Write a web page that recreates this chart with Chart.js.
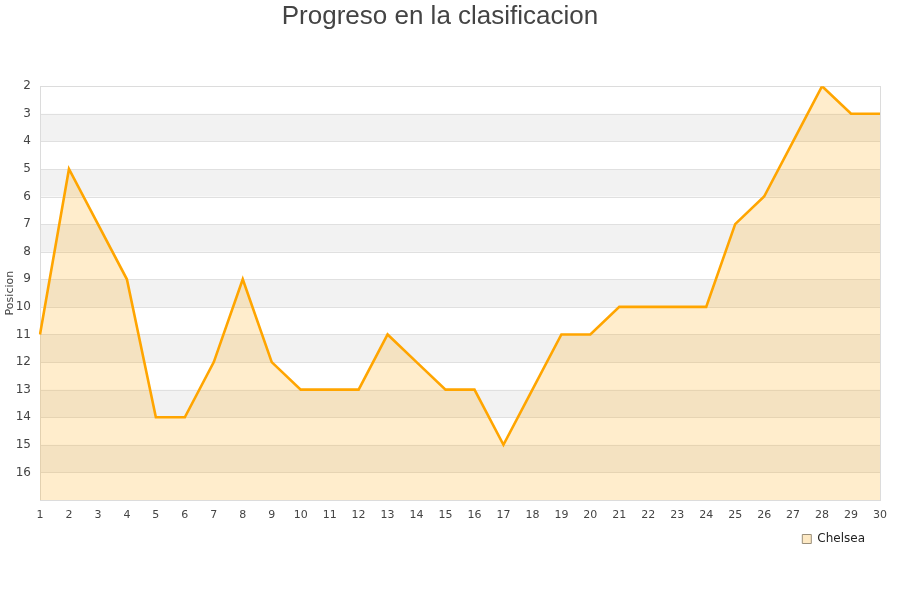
<!DOCTYPE html>
<html><head><meta charset="utf-8">
<script src="https://cdn.jsdelivr.net/npm/chart.js@4/dist/chart.umd.min.js"></script>
<style>html,body{margin:0;padding:0;background:#fff}#wrap{width:900px;height:600px}</style>
</head><body><div id="wrap"><canvas id="c" width="900" height="600"></canvas></div>
<script>
const jornadas = [1,2,3,4,5,6,7,8,9,10,11,12,13,14,15,16,17,18,19,20,21,22,23,24,25,26,27,28,29,30];
const chelsea = [11,5,7,9,14,14,12,9,12,13,13,13,11,12,13,13,15,13,11,11,10,10,10,10,7,6,4,2,3,3];
const yMin = 2, yMax = 17;

const bands = {
  id: 'bands',
  beforeDatasetsDraw(chart) {
    const {ctx, chartArea: a, scales: {y}} = chart;
    ctx.save();
    for (let v = yMin; v < yMax; v++) {
      if ((v - yMin) % 2 === 1) {
        const p1 = y.getPixelForValue(v), p2 = y.getPixelForValue(v + 1);
        ctx.fillStyle = '#f2f2f2';
        ctx.fillRect(a.left, Math.min(p1, p2), a.right - a.left, Math.abs(p2 - p1));
      }
    }
    ctx.strokeStyle = '#e0e0e0';
    ctx.lineWidth = 1;
    for (let v = yMin; v <= yMax; v++) {
      const p = Math.round(y.getPixelForValue(v)) + 0.5;
      ctx.beginPath(); ctx.moveTo(a.left, p); ctx.lineTo(a.right, p); ctx.stroke();
    }
    ctx.strokeStyle = '#dcdcdc';
    ctx.strokeRect(Math.round(a.left) + 0.5, Math.round(a.top) + 0.5, Math.round(a.right - a.left), Math.round(a.bottom - a.top));
    ctx.restore();
  }
};

new Chart(document.getElementById('c'), {
  type: 'line',
  data: {
    labels: jornadas,
    datasets: [{
      label: 'Chelsea',
      data: chelsea,
      borderColor: '#FFA500',
      backgroundColor: 'rgba(255,165,0,0.2)',
      borderWidth: 2.6,
      pointRadius: 0,
      tension: 0,
      fill: {value: yMax}
    }]
  },
  options: {
    responsive: false,
    animation: false,
    layout: {padding: {left: 0, right: 20, top: 0, bottom: 45}},
    plugins: {
      title: {
        display: true,
        text: 'Progreso en la clasificacion',
        color: '#444',
        font: {family: 'Liberation Sans', size: 26, weight: 'normal'},
        padding: {top: 1, bottom: 54}
      },
      legend: {
        position: 'bottom',
        align: 'end',
        labels: {
          boxWidth: 9, boxHeight: 9, padding: 15,
          color: '#222',
          font: {family: 'DejaVu Sans', size: 12},
          generateLabels: () => [{text: 'Chelsea', fillStyle: '#fde9c4', strokeStyle: '#9a8f7a', lineWidth: 1, fontColor: '#222'}]
        }
      },
      tooltip: {enabled: false}
    },
    scales: {
      x: {
        offset: false,
        grid: {display: false, drawTicks: false},
        border: {display: false},
        ticks: {color: '#444', font: {family: 'DejaVu Sans', size: 11}, maxRotation: 0, autoSkip: false, padding: 9},
        afterFit(s) { s.height = 18; }
      },
      y: {
        reverse: true,
        min: yMin, max: yMax,
        grid: {display: false, drawTicks: false},
        border: {display: false},
        title: {display: true, text: 'Posicion', color: '#444', font: {family: 'DejaVu Sans', size: 11}, padding: {top: 4, bottom: 0}},
        ticks: {
          stepSize: 1, color: '#444', font: {family: 'DejaVu Sans', size: 12}, padding: 9,
          callback: v => v === yMax ? '' : v
        },
        afterFit(s) { s.width = 40; }
      }
    }
  },
  plugins: [bands]
});
</script>
</body></html>
